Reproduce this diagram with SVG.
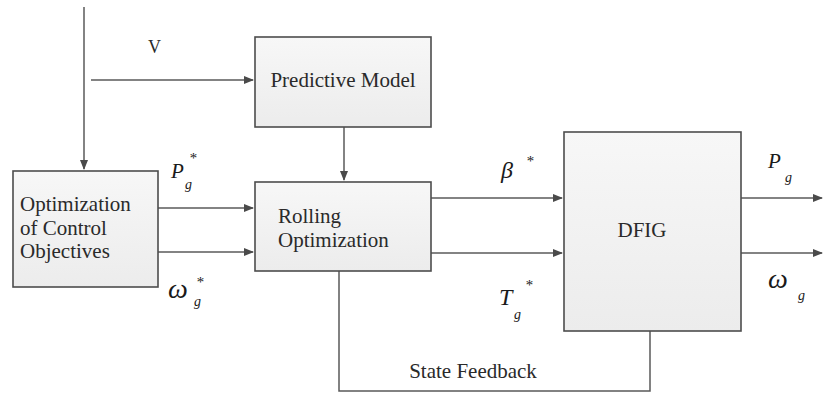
<svg xmlns="http://www.w3.org/2000/svg" width="823" height="397" viewBox="0 0 823 397">
<defs>
<linearGradient id="bg" x1="0" y1="0" x2="0" y2="1">
<stop offset="0" stop-color="#f7f7f7"/>
<stop offset="1" stop-color="#ececec"/>
</linearGradient>
<marker id="ah" markerWidth="10" markerHeight="8" refX="9" refY="4" orient="auto" markerUnits="userSpaceOnUse">
<path d="M0,0 L10,4 L0,8 Z" fill="#4a4a4a"/>
</marker>
</defs>
<style>
.box{fill:url(#bg);stroke:#4d4d4d;stroke-width:1.6}
.ln{fill:none;stroke:#5a5a5a;stroke-width:1.5}
text{font-family:Liberation Serif, DejaVu Serif, Times New Roman, serif}
</style>
<rect width="823" height="397" fill="#ffffff"/>
<g id="connectors">
<path class="ln" d="M84,7 V169" marker-end="url(#ah)"/>
<path class="ln" d="M91,80 H253" marker-end="url(#ah)"/>
<path class="ln" d="M344,127 V180" marker-end="url(#ah)"/>
<path class="ln" d="M158,208 H253" marker-end="url(#ah)"/>
<path class="ln" d="M158,252 H253" marker-end="url(#ah)"/>
<path class="ln" d="M431,198 H562" marker-end="url(#ah)"/>
<path class="ln" d="M431,253 H562" marker-end="url(#ah)"/>
<path class="ln" d="M741,198 H822" marker-end="url(#ah)"/>
<path class="ln" d="M741,253 H822" marker-end="url(#ah)"/>
<path class="ln" d="M339,271 V391 H650 V331"/>
</g>
<g font-family="Liberation Serif, DejaVu Serif, serif" font-size="21" fill="#2a2a2a">
<g id="predictive-model">
<rect class="box" x="255" y="37" width="176" height="90"/>
<text x="343" y="87" text-anchor="middle">Predictive Model</text>
</g>
<g id="optimization-of-control-objectives">
<rect class="box" x="13" y="171" width="145" height="116"/>
<text x="20" y="211">Optimization</text>
<text x="20" y="235">of Control</text>
<text x="20" y="258">Objectives</text>
</g>
<g id="rolling-optimization">
<rect class="box" x="255" y="182" width="176" height="89"/>
<text x="278" y="223">Rolling</text>
<text x="278" y="247">Optimization</text>
</g>
<g id="dfig">
<rect class="box" x="564" y="132" width="177" height="199"/>
<text x="642" y="237" text-anchor="middle">DFIG</text>
</g>
<g id="labels">
<text x="148" y="53" font-size="18">V</text>
<g font-style="italic" fill="#1a1a1a">
<text x="171" y="178" font-size="21">P</text>
<text x="185" y="189" font-size="14">g</text>
<text x="189" y="163" font-size="15">*</text>
<text x="168" y="298" font-size="28">ω</text>
<text x="194" y="306" font-size="14">g</text>
<text x="196" y="287" font-size="15">*</text>
<text x="501" y="178" font-size="24">β</text>
<text x="526" y="166" font-size="15">*</text>
<text x="499" y="305" font-size="24">T</text>
<text x="514" y="319" font-size="14">g</text>
<text x="525" y="290" font-size="15">*</text>
<text x="768" y="168" font-size="21">P</text>
<text x="785" y="182" font-size="14">g</text>
<text x="768" y="288" font-size="28">ω</text>
<text x="798" y="300" font-size="14">g</text>
</g>
<text x="473" y="378" text-anchor="middle">State Feedback</text>
</g>
</g>
</svg>
